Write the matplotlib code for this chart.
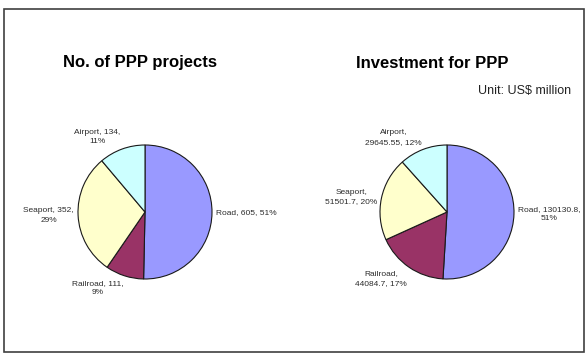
import numpy as np
import matplotlib
matplotlib.use("Agg")
import matplotlib.pyplot as plt
from matplotlib.patches import Rectangle

plt.rcParams['font.family'] = ['Liberation Sans', 'DejaVu Sans']

# data
categories = ['Road', 'Railroad', 'Seaport', 'Airport']
projects = [605, 111, 352, 134]
investment = [130130.8, 44084.7, 51501.7, 29645.55]
project_labels = ['Road, 605, 51%', 'Railroad, 111,\n9%', 'Seaport, 352,\n29%', 'Airport, 134,\n11%']
invest_labels = ['Road, 130130.8,\n51%', 'Railroad,\n44084.7, 17%', 'Seaport,\n51501.7, 20%', 'Airport,\n29645.55, 12%']
colors = ['#9999FF', '#993366', '#FFFFCC', '#CCFFFF']

W, H = 588, 355
fig = plt.figure(figsize=(W / 100, H / 100), dpi=100)
fig.patch.set_facecolor('white')


def draw_pie(cx, cy, r, values, labels):
    ax = fig.add_axes([(cx - r) / W, (H - cy - r) / H, 2 * r / W, 2 * r / H])
    wedges, _ = ax.pie(values, colors=colors, startangle=90, counterclock=False,
                       radius=1, wedgeprops=dict(edgecolor='#1a1a1a', linewidth=0.8))
    ax.set_xlim(-1, 1)
    ax.set_ylim(-1, 1)
    ax.set_aspect('auto')
    ax.axis('off')
    for w, lab in zip(wedges, labels):
        ang = np.deg2rad((w.theta1 + w.theta2) / 2)
        c, s = np.cos(ang), np.sin(ang)
        ha = 'left' if c > 0.1 else ('right' if c < -0.1 else 'center')
        va = 'bottom' if s > 0.5 else ('top' if s < -0.5 else 'center')
        ax.text(1.06 * c, 1.06 * s, lab, ha=ha, va=va, multialignment='center',
                fontsize=6, color='#2b2b2b', linespacing=1.45, clip_on=False)
    return ax


draw_pie(145, 212, 67, projects, project_labels)
draw_pie(447, 212, 67, investment, invest_labels)

fig.text(140 / W, 1 - 63 / H, 'No. of PPP projects', ha='center', va='center',
         fontsize=12, fontweight='bold')
fig.text(432 / W, 1 - 63 / H, 'Investment for PPP', ha='center', va='center',
         fontsize=12, fontweight='bold')
fig.text(571 / W, 1 - 91 / H, 'Unit: US$ million', ha='right', va='center',
         fontsize=9, color='#222222')

# outer frame
fig.add_artist(Rectangle((3.5 / W, 3 / H), 580 / W, 343 / H, transform=fig.transFigure,
                         fill=False, edgecolor='#404040', linewidth=1.2))

fig.savefig('out.png', dpi=100)
